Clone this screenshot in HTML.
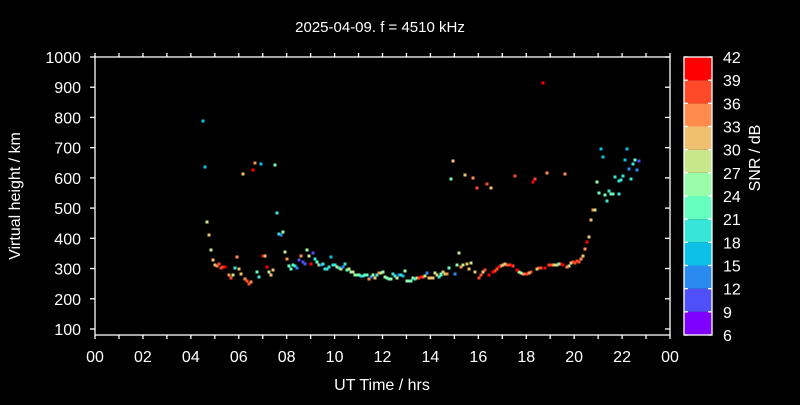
<!DOCTYPE html>
<html><head><meta charset="utf-8"><style>
html,body{margin:0;padding:0;background:#000;}
svg text{font-family:"Liberation Sans",sans-serif;fill:#fff;}
</style></head><body>
<svg id="s" width="800" height="400" xmlns="http://www.w3.org/2000/svg">
<rect width="800" height="400" fill="#000"/>
<text x="380" y="32" font-size="15" text-anchor="middle">2025-04-09. f = 4510 kHz</text>
<g id="ax" stroke="#fff" stroke-width="1.3" fill="none">
<rect x="95" y="57" width="575" height="278"/>
</g>
<g id="lab" font-size="16"></g>
<text x="20" y="196" font-size="16" text-anchor="middle" transform="rotate(-90 20 196)">Virtual height / km</text>
<text x="382" y="390" font-size="16" text-anchor="middle">UT Time / hrs</text>
<text x="760" y="158" font-size="16" text-anchor="middle" transform="rotate(-90 760 158)">SNR / dB</text>
<g id="cb"></g>
<g id="pts"></g>
</svg>
<script>
var NS="http://www.w3.org/2000/svg";
function el(p,t,a,txt){var e=document.createElementNS(NS,t);for(var k in a)e.setAttribute(k,a[k]);if(txt!=null)e.textContent=txt;document.getElementById(p).appendChild(e);return e;}
// x ticks
for(var h=0;h<=24;h++){var x=95+h*575/24;
 el("ax","line",{x1:x,y1:335,x2:x,y2:339});el("ax","line",{x1:x,y1:57,x2:x,y2:53});
 if(h%2==0){el("lab","text",{x:x,y:362,"text-anchor":"middle"},(h%24<10?"0":"")+(h%24));}}
// y ticks
for(var v=100;v<=1000;v+=100){var y=57+(1000-v)*0.3022;
 el("ax","line",{x1:95,y1:y,x2:90,y2:y});el("ax","line",{x1:670,y1:y,x2:665,y2:y});
 el("lab","text",{x:81,y:y+6,"text-anchor":"end"},v);}
// colorbar
var cols=["#8000ff","#5050f8","#2a8af0","#0cc0e8","#38e6d8","#66ffc0","#98fca8","#c8e68a","#f0c070","#ff8c4c","#ff4a2a","#ff0000"];
var bh=278/12;
for(var i=0;i<12;i++){el("cb","rect",{x:684,y:335-(i+1)*bh,width:28,height:bh,fill:cols[i]});}
el("cb","rect",{x:684,y:57,width:28,height:278,fill:"none",stroke:"#fff","stroke-width":1.3});
for(var i=0;i<=12;i++){var y=335-i*bh;
 el("cb","line",{x1:684,y1:y,x2:688,y2:y,stroke:"#fff","stroke-width":1.3});
 el("cb","line",{x1:712,y1:y,x2:708,y2:y,stroke:"#fff","stroke-width":1.3});
 el("cb","text",{x:723,y:y+6,"font-size":16},6+3*i);}
var C={v:"#8000ff",p:"#5050f8",b:"#2a8af0",s:"#0cc0e8",c:"#38e6d8",m:"#66ffc0",l:"#98fca8",g:"#c8e68a",y:"#f0c070",o:"#ff8c4c",r:"#ff4a2a",R:"#ff0000"};
var P="203,121,s 205,167,s 243,174,y 255,163,o 253,170,R 261,164,s 275,165,m 207,222,g 209,235,y 211,250,g 213,260,y 215,265,y 217,266,o 219,264,r 221,268,r 223,267,r 225,267,R 229,275,o 231,278,r 233,275,g 235,268,c 237,257,o 239,269,y 241,274,y 245,279,o 247,281,r 249,284,r 251,282,o 257,272,m 259,277,c 263,256,R 265,256,y 267,267,R 269,272,g 271,275,y 273,270,y 277,213,c 279,234,c 281,235,b 283,232,l 285,252,g 287,259,o 289,266,m 291,269,m 293,265,m 295,266,c 297,268,b 299,260,p 301,256,o 303,262,p 305,264,p 307,250,l 309,256,g 311,264,R 313,253,p 315,259,c 317,262,m 319,265,g 321,265,b 323,264,c 325,269,c 327,269,c 329,267,c 331,257,s 333,265,c 335,265,c 337,267,g 339,268,c 341,269,g 343,267,b 345,264,c 347,270,m 349,269,g 351,272,l 353,272,g 355,275,l 357,275,m 359,275,l 361,276,c 363,276,c 365,275,m 367,275,m 369,279,o 371,277,b 373,275,l 375,278,y 377,275,c 379,273,o 381,273,g 383,272,l 385,277,l 387,278,l 389,279,m 391,279,l 393,274,c 395,276,c 397,278,g 399,275,b 401,275,c 403,276,s 405,271,l 407,281,l 409,281,l 411,281,m 413,278,l 415,279,c 417,278,g 419,278,r 421,277,R 423,277,r 425,276,g 427,273,b 429,278,y 431,278,y 433,278,y 435,273,g 437,275,y 439,277,c 441,275,m 443,272,y 445,274,g 447,274,o 449,268,m 455,274,b 457,265,l 459,253,g 461,267,o 463,265,g 467,264,y 469,269,y 453,161,y 451,179,m 465,175,y 473,178,o 477,188,r 487,184,r 491,188,y 515,176,r 535,179,r 533,182,R 547,173,o 565,174,o 543,83,R 593,210,o 595,210,g 591,220,y 589,237,y 587,242,R 585,249,o 583,256,y 581,259,o 579,262,r 577,261,r 575,263,r 573,262,r 571,263,y 569,266,g 567,267,o 563,265,R 561,264,R 559,264,m 557,265,y 555,265,g 553,265,y 551,265,r 549,265,r 545,268,R 541,268,r 539,268,r 537,269,y 531,272,r 529,273,y 527,274,r 525,274,r 523,274,o 521,273,l 519,272,g 517,270,R 513,266,r 511,265,R 509,265,r 507,265,r 505,264,y 503,265,y 501,266,y 499,267,R 497,269,r 495,271,r 493,272,R 489,275,R 485,270,r 483,272,y 481,275,r 479,278,r 475,272,y 471,263,g 441,274,m 601,149,s 603,157,s 627,149,s 625,160,s 635,160,m 639,161,p 633,164,c 629,169,b 637,170,b 615,177,c 623,176,c 619,181,c 621,180,c 631,179,c 597,182,l 599,193,m 605,195,m 609,191,c 611,194,m 613,194,m 619,194,c 607,201,c";
P.split(" ").forEach(function(t){var a=t.split(",");el("pts","rect",{x:+a[0]-1.5,y:+a[1]-1.5,width:3,height:3,fill:C[a[2]]});});
</script>
</body></html>
